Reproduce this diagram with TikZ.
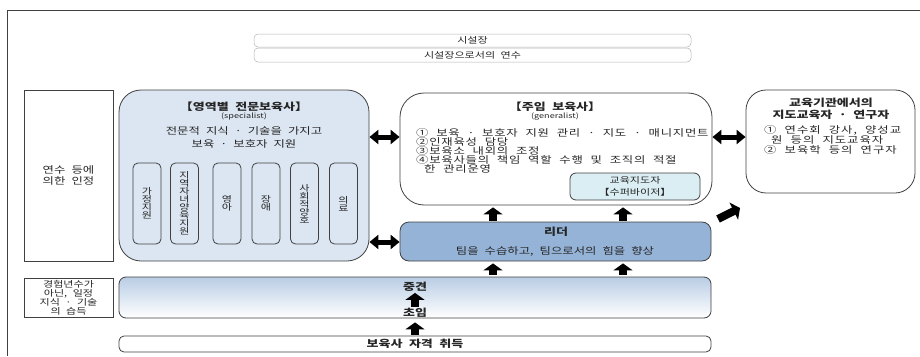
\documentclass[tikz,border=0pt]{standalone}
\usepackage{fontspec}
\usetikzlibrary{arrows.meta}
\newfontfamily\kr[FakeStretch=1.3,WordSpace=2.2]{Noto Sans CJK KR}

\definecolor{speccol}{HTML}{DCE6F2}
\definecolor{leadcol}{HTML}{95B3D7}
\definecolor{supcol}{HTML}{DAEEF3}
\definecolor{midcol}{HTML}{B9CDE5}
\definecolor{linecol}{HTML}{404040}

\tikzset{
  box/.style={draw=linecol, line width=0.8pt, inner sep=0pt},
  facbox/.style={draw=gray!60, line width=0.5pt, rounded corners=4pt, inner sep=0pt,
    minimum width=437pt},
  txt/.style={font=\kr\fontsize{9.5}{9}\selectfont, inner sep=0pt, align=center, text=black!85},
  ttl/.style={font=\kr\bfseries\fontsize{10}{10}\selectfont, inner sep=0pt, align=center, text=black!85},
  subtxt/.style={font=\kr\fontsize{7}{7}\selectfont, inner sep=0pt, text=black!85},
  vtxt/.style={font=\kr\fontsize{8.5}{8}\selectfont, inner sep=0pt, align=center, text=black!85},
  dblarrow/.style={line width=5pt, {Triangle[width=14pt,length=9pt]}-{Triangle[width=14pt,length=9pt]}},
  uparrow/.style={line width=8pt, -{Triangle[width=19pt,length=7pt]}},
}

\begin{document}
\begin{tikzpicture}[x=1pt,y=-1pt]
\useasboundingbox (0,0) rectangle (920,356);

% frame
\draw[linecol, line width=0.8pt] (7,356) -- (7,10) -- (920,10);

% top boxes
\node[facbox, minimum height=13pt, txt, font=\kr\fontsize{8.5}{9}\selectfont] (fac) at (472.5,40.5) {시설장};
\node[facbox, minimum height=14pt, txt, font=\kr\fontsize{8.5}{9}\selectfont] (facedu) at (472.5,55) {시설장으로서의 연수};

% left labels
\node[box, minimum width=89pt, minimum height=171pt, txt, font=\kr\fontsize{9.5}{10.5}\selectfont] (cert) at (68.5,175.5) {연수 등에\\의한 인정};
\node[box, minimum width=89pt, minimum height=39pt, txt, font=\kr\fontsize{8.5}{9}\selectfont] (exp) at (68.5,297.5) {경험년수가\\아닌, 일정\\지식 · 기술\\의 습득};

% specialist
\node[box, fill=speccol, rounded corners=22pt, minimum width=250pt, minimum height=171pt] (spec) at (244,175.5) {};
\node[ttl] (specttl) at (244,107) {【영역별 전문보육사】};
\node[subtxt] (specsub) at (244,116) {(specialist)};
\node[txt, font=\kr\fontsize{9.5}{13}\selectfont] (specdesc) at (244,137.5) {전문적 지식 · 기술을 가지고\\보육 · 보호자 지원};
\foreach \cx/\lbl [count=\i] in {147/{가\\정\\지\\원}, 184.5/{지\\역\\자\\녀\\양\\육\\지\\원}, 227/{영\\아}, 266/{장\\애}, 304.5/{사\\회\\적\\양\\호}, 343.5/{의\\료}}
  \node[box, fill=speccol, rounded corners=5pt, minimum width=28pt, minimum height=81pt, vtxt] (v\i) at (\cx,203.5) {\lbl};

% generalist
\node[box, rounded corners=24pt, minimum width=312pt, minimum height=112pt] (gen) at (556,149) {};
\node[ttl] (genttl) at (555,107) {【주임 보육사】};
\node[subtxt] (gensub) at (555,117) {(generalist)};
\node[txt, anchor=west, align=left, font=\kr\addfontfeature{LetterSpace=8}\fontsize{9.5}{9}\selectfont] (genlist) at (416,151) {① 보육 · 보호자 지원 관리 · 지도 · 매니지먼트\\②인재육성 담당\\③보육소 내외의 조정\\④보육사들의 책임 역할 수행 및 조직의 적절\\\hspace*{8pt}한 관리운영};
\node[box, fill=supcol, rounded corners=6pt, minimum width=130pt, minimum height=27pt, txt, font=\kr\fontsize{8.5}{12}\selectfont] (sup) at (635,186.5) {교육지도자\\【수퍼바이저】};

% institution
\node[box, rounded corners=20pt, minimum width=169pt, minimum height=103pt] (inst) at (830.5,141.5) {};
\node[ttl, font=\kr\bfseries\fontsize{10}{12}\selectfont] (instttl) at (831,109) {교육기관에서의\\지도교육자 · 연구자};
\node[txt, anchor=west, align=left, font=\kr\addfontfeature{LetterSpace=10}\fontsize{9.5}{10}\selectfont] (instlist) at (764,140) {① 연수회 강사, 양성교\\\hspace*{7pt}원 등의 지도교육자\\② 보육학 등의 연구자};

% leader
\node[box, fill=leadcol, rounded corners=9pt, minimum width=311pt, minimum height=39pt] (leader) at (555.5,241.5) {};
\node[ttl] (leadttl) at (556,232) {리더};
\node[txt] (leadtxt) at (555,251) {팀을 수습하고, 팀으로서의 힘을 향상};

% career
\node[box, top color=midcol, bottom color=white, rounded corners=7pt, minimum width=592pt, minimum height=41pt] (mid) at (415,297.5) {};
\node[ttl] (senior) at (415,287) {중견};
\node[ttl] (junior) at (415,313) {초임};
\node[box, rounded corners=5pt, minimum width=592pt, minimum height=16pt, ttl] (qual) at (415,344) {보육사 자격 취득};

% arrows
\draw[dblarrow] (spec.east |- 0,137) -- (gen.west |- 0,137);
\draw[dblarrow] (gen.east |- 0,137) -- (inst.west |- 0,137);
\draw[dblarrow] (spec.east |- 0,242) -- (leader.west |- 0,242);
\foreach \ax in {493,623} {
  \draw[uparrow, shorten <=2pt, shorten >=2pt] (mid.north -| \ax,0) -- (leader.south -| \ax,0);
  \draw[uparrow, shorten <=1pt, shorten >=2pt] (leader.north -| \ax,0) -- (gen.south -| \ax,0);
}
\draw[uparrow, shorten <=1pt, shorten >=1pt] (junior) -- (senior);
\draw[uparrow, shorten <=1pt, shorten >=4pt] (qual) -- (mid.south);
\coordinate (diagstart) at (718,219);
\coordinate (diagend) at (740,208);
\draw[uparrow] (diagstart) -- (diagend);
\end{tikzpicture}
\end{document}
